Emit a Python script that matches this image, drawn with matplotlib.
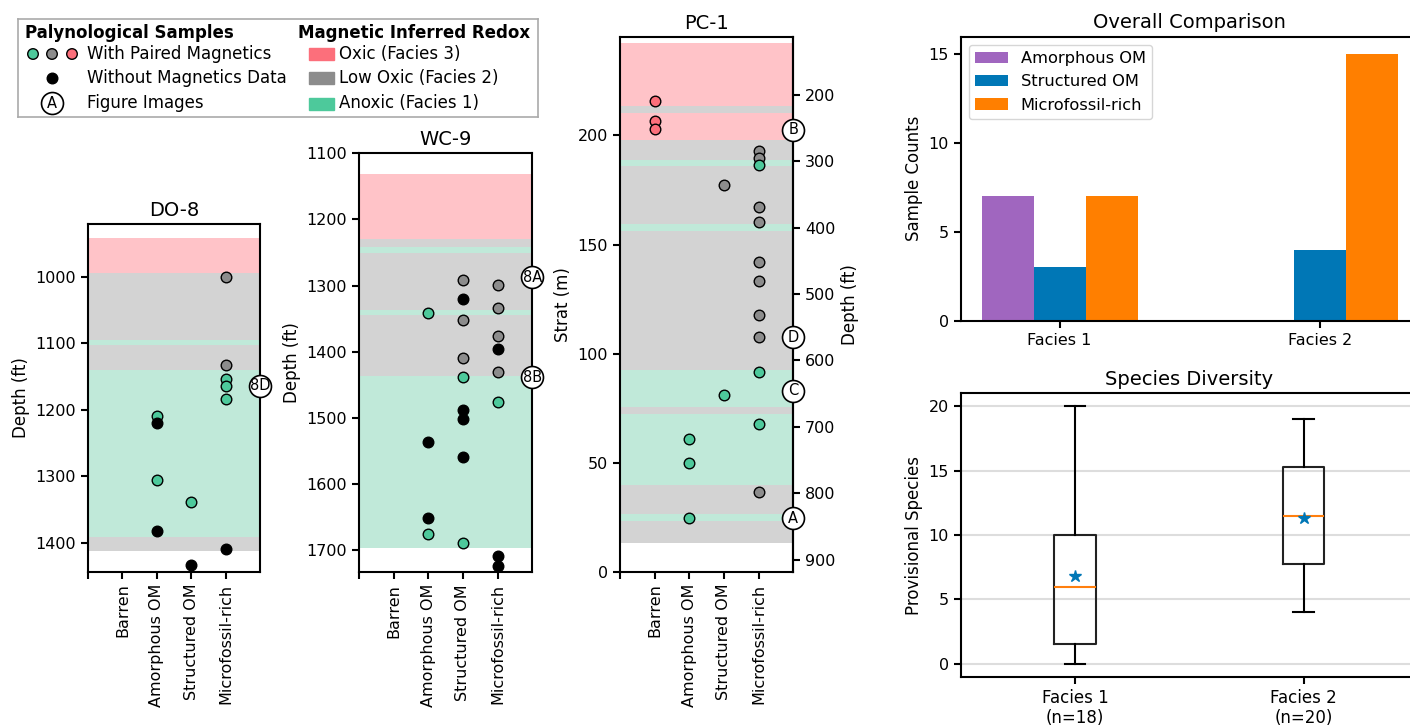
import numpy as np
import matplotlib
matplotlib.use('Agg')
import matplotlib.pyplot as plt
from matplotlib.patches import Rectangle

plt.rcParams['font.family'] = 'DejaVu Sans'
plt.rcParams['axes.linewidth'] = 1.5
plt.rcParams['xtick.major.width'] = 1.5
plt.rcParams['ytick.major.width'] = 1.5
plt.rcParams['xtick.major.size'] = 5
plt.rcParams['ytick.major.size'] = 5
plt.rcParams['xtick.labelsize'] = 11.5
plt.rcParams['ytick.labelsize'] = 11.5
plt.rcParams['axes.labelsize'] = 12
plt.rcParams['axes.titlesize'] = 14

# colours: facies 3 = oxic, 2 = low oxic, 1 = anoxic, 0 = no magnetics
fill = {3: '#fc6f7b', 2: '#8c8c8c', 1: '#4dc99b', 0: 'black'}
band = {3: '#ffc3c8', 2: '#d3d3d3', 1: '#c0e9d9'}

categories = ['', 'Barren', 'Amorphous OM', 'Structured OM', 'Microfossil-rich']

# ---- DO-8 (depth ft) ----
do8_band_top = [942, 994, 1095, 1102, 1140, 1391]
do8_band_bot = [994, 1095, 1102, 1140, 1391, 1412]
do8_band_fac = [3, 2, 1, 2, 1, 2]
do8_cat = [4, 4, 4, 4, 4, 4, 2, 2, 2, 2, 3, 3]
do8_depth = [1000, 1132, 1154, 1164, 1184, 1409, 1209, 1220, 1306, 1383, 1339, 1434]
do8_redox = [2, 2, 1, 1, 1, 0, 1, 0, 1, 0, 1, 0]
do8_fig = ['8D']
do8_fig_depth = [1164]

# ---- WC-9 (depth ft) ----
wc9_band_top = [1131.7, 1229.3, 1242, 1250, 1336.5, 1344, 1435.7]
wc9_band_bot = [1229.3, 1242, 1250, 1336.5, 1344, 1435.7, 1696]
wc9_band_fac = [3, 2, 1, 2, 1, 2, 1]
wc9_cat = [2, 2, 2, 2,
           3, 3, 3, 3, 3, 3, 3, 3, 3,
           4, 4, 4, 4, 4, 4, 4, 4]
wc9_depth = [1340.6, 1536, 1651.6, 1675.7,
             1291.7, 1320, 1351.6, 1409, 1438, 1488.5, 1501.6, 1558.5, 1689,
             1298.8, 1334, 1376, 1396, 1431, 1476, 1708.5, 1724]
wc9_redox = [1, 0, 0, 1,
             2, 0, 2, 2, 1, 0, 0, 0, 1,
             2, 2, 2, 0, 2, 1, 0, 0]
wc9_fig = ['8A', '8B']
wc9_fig_depth = [1287, 1438]

# ---- PC-1 (strat m) ----
pc1_band_top = [242.4, 213.6, 210.3, 198, 188.9, 185.8, 159.5, 156.4, 92.5, 75.4, 72.3, 39.8, 26.5, 23.4]
pc1_band_bot = [213.6, 210.3, 198, 188.9, 185.8, 159.5, 156.4, 92.5, 75.4, 72.3, 39.8, 26.5, 23.4, 13.0]
pc1_band_fac = [3, 2, 3, 2, 1, 2, 1, 2, 1, 2, 1, 2, 1, 2]
pc1_cat = [1, 1, 1,
           2, 2, 2,
           3, 3,
           4, 4, 4, 4, 4, 4, 4, 4, 4, 4, 4, 4]
pc1_strat = [215.6, 206.4, 203,
             60.7, 50, 24.5,
             177.4, 81,
             192.7, 189.6, 186.6, 167.3, 160.3, 141.9, 133.5, 117.9, 107.5, 91.7, 67.6, 36.7]
pc1_redox = [3, 3, 3,
             1, 1, 1,
             2, 1,
             2, 2, 1, 2, 2, 2, 2, 2, 2, 1, 1, 2]
pc1_fig = ['B', 'D', 'C', 'A']
pc1_fig_strat = [202.6, 107.5, 82.9, 24.5]

# ---- summary panels ----
facies = ['Facies 1', 'Facies 2']
amorph_counts = [7, 0]
struct_counts = [3, 4]
micro_counts = [7, 15]

div_labels = ['Facies 1\n(n=18)', 'Facies 2\n(n=20)']
div_min = [0, 4]
div_q1 = [1.5, 7.75]
div_med = [6, 11.5]
div_q3 = [10, 15.25]
div_max = [20, 19]
div_mean = [6.8, 11.3]

W, H = 1410, 725
fig = plt.figure(figsize=(W / 100, H / 100), dpi=100)


def px_axes(left, top, right, bottom):
    return fig.add_axes([left / W, 1 - bottom / H, (right - left) / W, (bottom - top) / H])


def draw_well(ax, btop, bbot, bfac, cat, y, redox, figs, fig_y):
    for t, b, f in zip(btop, bbot, bfac):
        ax.axhspan(t, b, color=band[f], lw=0, zorder=0)
    cat = np.array(cat)
    y = np.array(y)
    redox = np.array(redox)
    for f in [3, 2, 1, 0]:
        m = redox == f
        ax.scatter(cat[m], y[m], s=58, c=fill[f], edgecolors='black', linewidths=1, zorder=3)
    ax.scatter([5] * len(figs), fig_y, s=250, c='white', edgecolors='black',
               linewidths=1.2, clip_on=False, zorder=5)
    for lab, ly in zip(figs, fig_y):
        ax.text(5, ly, lab, ha='center', va='center', fontsize=10.5, zorder=6, clip_on=False)
    ax.set_xlim(0, 5)
    ax.set_xticks(range(5))
    ax.set_xticklabels(categories, rotation=90)


# DO-8
ax1 = px_axes(88, 224.3, 260, 571.7)
draw_well(ax1, do8_band_top, do8_band_bot, do8_band_fac, do8_cat, do8_depth, do8_redox, do8_fig, do8_fig_depth)
ax1.set_ylim(1443.6, 921)
ax1.set_yticks([1000, 1100, 1200, 1300, 1400])
ax1.set_ylabel('Depth (ft)')
ax1.set_title('DO-8')

# WC-9
ax2 = px_axes(359, 153.3, 532.3, 572.3)
draw_well(ax2, wc9_band_top, wc9_band_bot, wc9_band_fac, wc9_cat, wc9_depth, wc9_redox, wc9_fig, wc9_fig_depth)
ax2.set_ylim(1733, 1100)
ax2.set_yticks([1100, 1200, 1300, 1400, 1500, 1600, 1700])
ax2.set_ylabel('Depth (ft)')
ax2.set_title('WC-9')

# PC-1
ax3 = px_axes(620, 37.3, 793.3, 571.7)
draw_well(ax3, pc1_band_top, pc1_band_bot, pc1_band_fac, pc1_cat, pc1_strat, pc1_redox, pc1_fig, pc1_fig_strat)
ax3.set_ylim(0, 245)
ax3.set_yticks([0, 50, 100, 150, 200])
ax3.set_ylabel('Strat (m)')
ax3.set_title('PC-1')


def m2ft(m):
    return 917.7 - 3.2808 * np.asarray(m)


def ft2m(ft):
    return (917.7 - np.asarray(ft)) / 3.2808


sec = ax3.secondary_yaxis('right', functions=(m2ft, ft2m))
sec.set_yticks(np.arange(200, 1000, 100))
sec.set_ylabel('Depth (ft)')

# Overall comparison
axb = px_axes(960.7, 36.7, 1418.8, 320.7)
x = np.arange(len(facies))
axb.bar(x - 0.2, amorph_counts, 0.2, color='#a066bf', label='Amorphous OM')
axb.bar(x, struct_counts, 0.2, color='#0077b6', label='Structured OM')
axb.bar(x + 0.2, micro_counts, 0.2, color='#ff7f00', label='Microfossil-rich')
axb.set_xticks(x)
axb.set_xticklabels(facies)
axb.set_xlim(-0.38, 1.38)
axb.set_ylim(0, 16)
axb.set_yticks([0, 5, 10, 15])
axb.set_ylabel('Sample Counts')
axb.set_title('Overall Comparison')
axb.legend(loc='upper left', fontsize=11.7)

# Species diversity
axd = px_axes(960.7, 393.3, 1418, 676.7)
stats = []
for i in range(2):
    stats.append(dict(label=div_labels[i], whislo=div_min[i], q1=div_q1[i], med=div_med[i],
                      q3=div_q3[i], whishi=div_max[i], mean=div_mean[i], fliers=[]))
axd.bxp(stats, showmeans=True, widths=0.18,
        boxprops=dict(color='#222222', lw=1.5),
        whiskerprops=dict(color='black', lw=1.5),
        capprops=dict(color='black', lw=1.5),
        medianprops=dict(color='#ff7f0e', lw=1.5),
        meanprops=dict(marker='*', markerfacecolor='#0077b6', markeredgecolor='#0077b6', markersize=9))
axd.set_xlim(0.5, 2.5)
axd.set_ylim(-1, 21)
axd.set_yticks([0, 5, 10, 15, 20])
axd.yaxis.grid(True, color='#dddddd', lw=1.5)
axd.set_axisbelow(True)
axd.tick_params(axis='x', labelsize=12)
axd.set_ylabel('Provisional Species')
axd.set_title('Species Diversity')

# key box
lg = px_axes(18, 19, 538, 117)
lg.set_xlim(18, 538)
lg.set_ylim(117, 19)
lg.set_xticks([])
lg.set_yticks([])
for s in lg.spines.values():
    s.set_color('#aaaaaa')
    s.set_linewidth(1.2)
lg.text(25, 32.5, 'Palynological Samples', weight='bold', fontsize=12, va='center')
lg.scatter([33, 52, 72], [54, 54, 54], s=58, c=[fill[1], fill[2], fill[3]], edgecolors='black', linewidths=1)
lg.scatter([52], [78], s=58, c='black')
lg.scatter([52], [103.5], s=250, c='white', edgecolors='black', linewidths=1.2)
lg.text(52, 103.5, 'A', ha='center', va='center', fontsize=10.5)
for yy, lab in zip([54, 78, 103.5], ['With Paired Magnetics', 'Without Magnetics Data', 'Figure Images']):
    lg.text(87, yy, lab, va='center', fontsize=12)
lg.text(298, 32.5, 'Magnetic Inferred Redox', weight='bold', fontsize=12, va='center')
for yy, f, lab in zip([54, 78, 103.5], [3, 2, 1], ['Oxic (Facies 3)', 'Low Oxic (Facies 2)', 'Anoxic (Facies 1)']):
    lg.add_patch(Rectangle((309, yy - 6), 25, 12, color=fill[f]))
    lg.text(339, yy, lab, va='center', fontsize=12)

fig.savefig('out.png', dpi=100)
